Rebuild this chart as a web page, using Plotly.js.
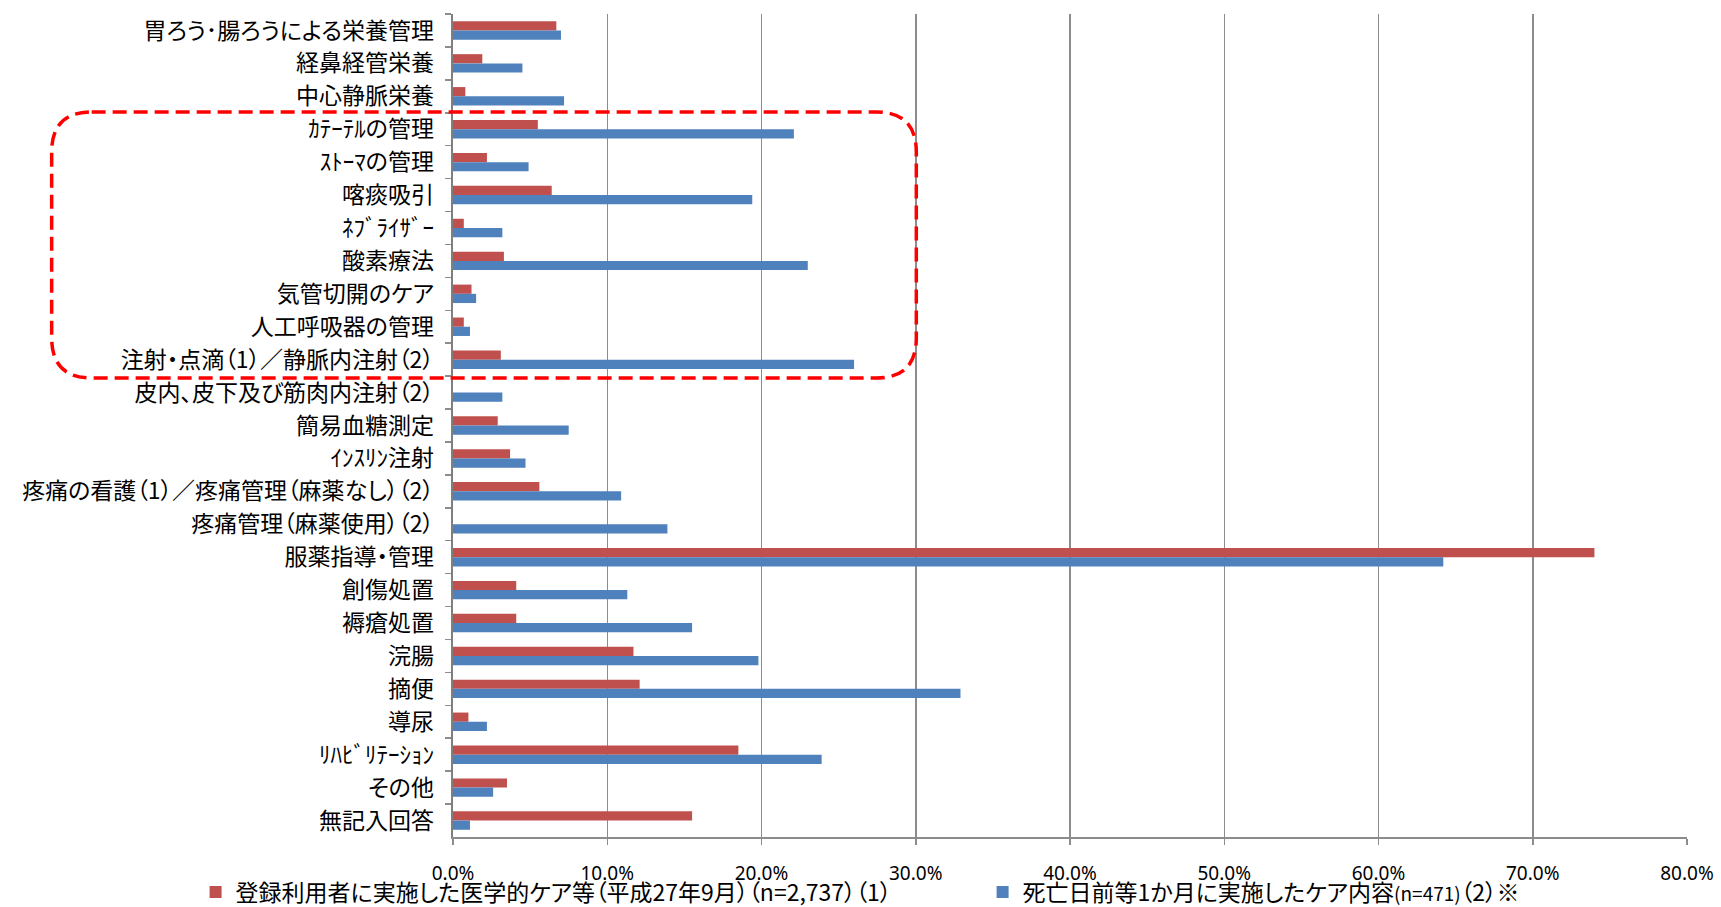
<!DOCTYPE html>
<html>
<head>
<meta charset="utf-8">
<script src="https://cdn.plot.ly/plotly-3.0.1.min.js"></script>
<style>
  html, body { margin: 0; padding: 0; background: #fff; }
  #chart { width: 1721px; height: 907px; }
  svg text { font-feature-settings: "palt" 1; }
</style>
</head>
<body>
<div id="chart"></div>
<script>
// ---- data (percent) ----
const categories = [
  '胃ろう･腸ろうによる栄養管理',
  '経鼻経管栄養',
  '中心静脈栄養',
  'ｶﾃｰﾃﾙの管理',
  'ｽﾄｰﾏの管理',
  '喀痰吸引',
  'ﾈﾌﾞﾗｲｻﾞｰ',
  '酸素療法',
  '気管切開のケア',
  '人工呼吸器の管理',
  '注射・点滴（1）／静脈内注射（2）',
  '皮内、皮下及び筋肉内注射（2）',
  '簡易血糖測定',
  'ｲﾝｽﾘﾝ注射',
  '疼痛の看護（1）／疼痛管理（麻薬なし）（2）',
  '疼痛管理（麻薬使用）（2）',
  '服薬指導・管理',
  '創傷処置',
  '褥瘡処置',
  '浣腸',
  '摘便',
  '導尿',
  'ﾘﾊﾋﾞﾘﾃｰｼｮﾝ',
  'その他',
  '無記入回答'
];
const registeredValues = [6.7, 1.9, 0.8, 5.5, 2.2, 6.4, 0.7, 3.3, 1.2, 0.7, 3.1, null, 2.9, 3.7, 5.6, null, 74.0, 4.1, 4.1, 11.7, 12.1, 1.0, 18.5, 3.5, 15.5];
const deathMonthValues = [7.0, 4.5, 7.2, 22.1, 4.9, 19.4, 3.2, 23.0, 1.5, 1.1, 26.0, 3.2, 7.5, 4.7, 10.9, 13.9, 64.2, 11.3, 15.5, 19.8, 32.9, 2.2, 23.9, 2.6, 1.1];
const seriesNames = [
  '登録利用者に実施した医学的ケア等（平成27年9月）（n=2,737）（1）',
  '死亡日前等1か月に実施したケア内容<span style="font-size:19px">(n=471)</span>（2）※'
];
const xTickVals = [0, 10, 20, 30, 40, 50, 60, 70, 80];
const xTickText = ['0.0%', '10.0%', '20.0%', '30.0%', '40.0%', '50.0%', '60.0%', '70.0%', '80.0%'];

// ---- layout geometry (pixels) ----
const W = 1721, H = 907;
const plotL = 452.5, plotR = 1687, plotT = 14, plotB = 837;
const px2x = p => (p - plotL) / (plotR - plotL);
const py2y = p => (plotB - p) / (plotB - plotT);

function roundedRectPath(L, T, R, B, r) {
  const X = px2x, Y = py2y;
  return 'M' + X(L + r) + ',' + Y(T) +
    ' L' + X(R - r) + ',' + Y(T) +
    ' Q' + X(R) + ',' + Y(T) + ' ' + X(R) + ',' + Y(T + r) +
    ' L' + X(R) + ',' + Y(B - r) +
    ' Q' + X(R) + ',' + Y(B) + ' ' + X(R - r) + ',' + Y(B) +
    ' L' + X(L + r) + ',' + Y(B) +
    ' Q' + X(L) + ',' + Y(B) + ' ' + X(L) + ',' + Y(B - r) +
    ' L' + X(L) + ',' + Y(T + r) +
    ' Q' + X(L) + ',' + Y(T) + ' ' + X(L + r) + ',' + Y(T) + ' Z';
}

const fontFamily = '"Noto Sans CJK JP", "Noto Sans", sans-serif';
const latinFamily = '"Noto Sans", "Open Sans", sans-serif';

const traces = [
  {
    type: 'bar', orientation: 'h',
    y: categories, x: registeredValues,
    name: seriesNames[0],
    marker: { color: '#C0504D' },
    hoverinfo: 'x+y'
  },
  {
    type: 'bar', orientation: 'h',
    y: categories, x: deathMonthValues,
    name: seriesNames[1],
    marker: { color: '#4F81BD' },
    hoverinfo: 'x+y'
  }
];

const layout = {
  width: W, height: H,
  margin: { l: plotL, r: W - plotR, t: plotT, b: H - plotB, pad: 0, autoexpand: false },
  paper_bgcolor: '#ffffff',
  plot_bgcolor: '#ffffff',
  font: { family: fontFamily, color: '#000000' },
  barmode: 'group',
  bargap: 0.44,
  bargroupgap: 0,
  showlegend: true,
  legend: {
    orientation: 'h',
    x: px2x(195), xanchor: 'left',
    y: py2y(892), yanchor: 'middle',
    font: { size: 23, family: fontFamily, color: '#000' },
    entrywidth: 742,
    entrywidthmode: 'pixels',
    bgcolor: 'rgba(0,0,0,0)',
    traceorder: 'normal'
  },
  xaxis: {
    range: [0, 80],
    tickmode: 'array',
    tickvals: xTickVals,
    ticktext: xTickText,
    showgrid: true,
    gridcolor: '#8c8c8c',
    gridwidth: 1.5,
    zeroline: false,
    showline: true,
    linecolor: '#8c8c8c',
    linewidth: 1.5,
    ticks: 'outside',
    ticklen: 6,
    tickcolor: '#8c8c8c',
    tickwidth: 1.5,
    ticklabelstandoff: 13,
    tickfont: { size: 19, family: latinFamily, color: '#000' },
    automargin: false,
    fixedrange: true
  },
  yaxis: {
    type: 'category',
    autorange: 'reversed',
    showgrid: false,
    zeroline: false,
    showline: true,
    linecolor: '#7f7f7f',
    linewidth: 2.5,
    ticks: 'outside',
    tickson: 'boundaries',
    ticklen: 6,
    tickcolor: '#8c8c8c',
    tickwidth: 1.5,
    ticklabelstandoff: 12,
    tickfont: { size: 23, family: fontFamily, color: '#000' },
    automargin: false,
    fixedrange: true
  },
  shapes: [
    {
      type: 'path',
      xref: 'paper', yref: 'paper',
      path: roundedRectPath(51, 112, 916, 378, 40),
      line: { color: '#ff0000', width: 3.5, dash: '14px,7px' },
      fillcolor: 'rgba(0,0,0,0)',
      layer: 'above'
    }
  ]
};

Plotly.newPlot('chart', traces, layout, { displayModeBar: false, staticPlot: true });
</script>
</body>
</html>
